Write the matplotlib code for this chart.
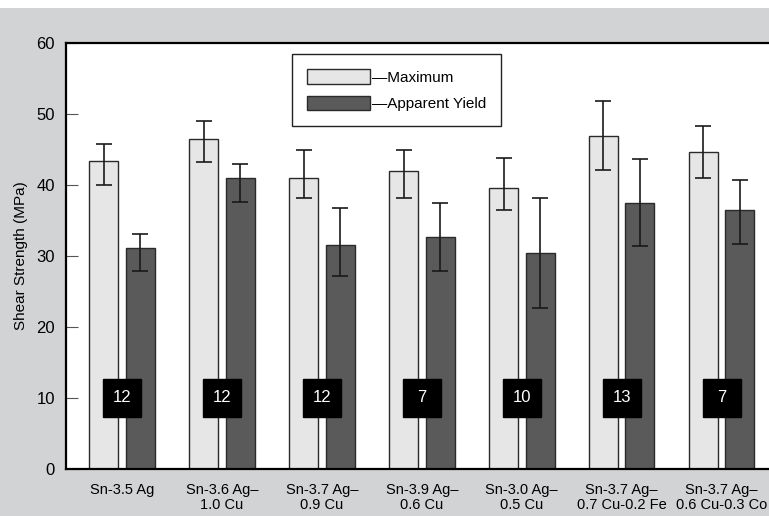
import numpy as np
import matplotlib
matplotlib.use('Agg')
import matplotlib.pyplot as plt
from matplotlib.patches import Rectangle

# alloys and shear strength (MPa): bar height, error low, error high
alloys = ['Sn-3.5 Ag', 'Sn-3.6 Ag–\n1.0 Cu', 'Sn-3.7 Ag–\n0.9 Cu', 'Sn-3.9 Ag–\n0.6 Cu',
          'Sn-3.0 Ag–\n0.5 Cu', 'Sn-3.7 Ag–\n0.7 Cu-0.2 Fe', 'Sn-3.7 Ag–\n0.6 Cu-0.3 Co']
max_mean = [43.4, 46.4, 41.0, 41.9, 39.6, 46.9, 44.6]
max_low = [40.0, 43.2, 38.2, 38.2, 36.4, 42.1, 40.9]
max_high = [45.8, 49.0, 44.9, 44.9, 43.8, 51.8, 48.3]
yield_mean = [31.1, 40.9, 31.5, 32.7, 30.4, 37.5, 36.4]
yield_low = [27.9, 37.6, 27.1, 27.8, 22.6, 31.4, 31.7]
yield_high = [33.1, 42.9, 36.7, 37.4, 38.1, 43.6, 40.7]
counts = [12, 12, 12, 7, 10, 13, 7]
count_level = 10

plt.rcParams['font.family'] = ['Liberation Sans', 'DejaVu Sans']

BG = '#d2d3d5'
LIGHT = '#e6e6e6'
DARK = '#5a5a5a'
EDGE = '#2a2a2a'

W, H = 769, 516
fig = plt.figure(figsize=(W / 100, H / 100), dpi=100, facecolor=BG)
fig.patches.append(Rectangle((0, 1 - 8 / H), 1, 8 / H, transform=fig.transFigure,
                             facecolor='white', edgecolor='none'))

left_px, right_px, top_px, bot_px = 66, 800, 42.6, 469
ax = fig.add_axes([left_px / W, (H - bot_px) / H, (right_px - left_px) / W, (bot_px - top_px) / H])
ax.set_facecolor('white')

x = np.arange(len(alloys))
bw = 0.29
off = 0.183

b1 = ax.bar(x - off, max_mean, bw, color=LIGHT, edgecolor=EDGE, linewidth=1.0, zorder=2)
b2 = ax.bar(x + off, yield_mean, bw, color=DARK, edgecolor=EDGE, linewidth=1.0, zorder=2)

max_err = [np.array(max_mean) - np.array(max_low), np.array(max_high) - np.array(max_mean)]
yld_err = [np.array(yield_mean) - np.array(yield_low), np.array(yield_high) - np.array(yield_mean)]
ax.errorbar(x - off, max_mean, yerr=max_err, fmt='none', ecolor='#1a1a1a',
            elinewidth=1.2, capsize=6, capthick=1.2, zorder=3)
ax.errorbar(x + off, yield_mean, yerr=yld_err, fmt='none', ecolor='#1a1a1a',
            elinewidth=1.2, capsize=6, capthick=1.2, zorder=3)

# sample-count boxes
ax.plot(x, [count_level] * len(x), linestyle='none', marker='s', markersize=27,
        color='black', zorder=4)
for xi, n in zip(x, counts):
    ax.text(xi, count_level, str(n), color='white', ha='center', va='center',
            fontsize=12, zorder=5)

ax.set_ylim(0, 60)
ax.set_xlim(-0.5625, -0.5625 + (right_px - left_px) / 99.9)
ax.set_yticks(range(0, 61, 10))
ax.tick_params(axis='y', direction='in', length=8.5, width=0.8, color='#555555',
               labelsize=12, pad=8)
ax.set_xticks(x)
ax.set_xticklabels(alloys, fontsize=10.5, linespacing=1.1)
ax.tick_params(axis='x', length=0, pad=10)

ax.set_ylabel('Shear Strength (MPa)', fontsize=11, labelpad=6)

for s in ['left', 'top', 'bottom']:
    ax.spines[s].set_linewidth(1.6)
    ax.spines[s].set_color('black')
ax.spines['right'].set_visible(False)

leg = ax.legend([b1, b2], ['—Maximum', '—Apparent Yield'], loc='upper left',
                bbox_to_anchor=(0.308, 0.973), borderaxespad=0, fontsize=11,
                handlelength=4.1, handleheight=1.1, handletextpad=0.1,
                labelspacing=0.7, borderpad=1.0, fancybox=False, framealpha=1,
                edgecolor='#222222')
leg.get_frame().set_linewidth(1.0)

fig.savefig('out.png', dpi=100, facecolor=fig.get_facecolor())
